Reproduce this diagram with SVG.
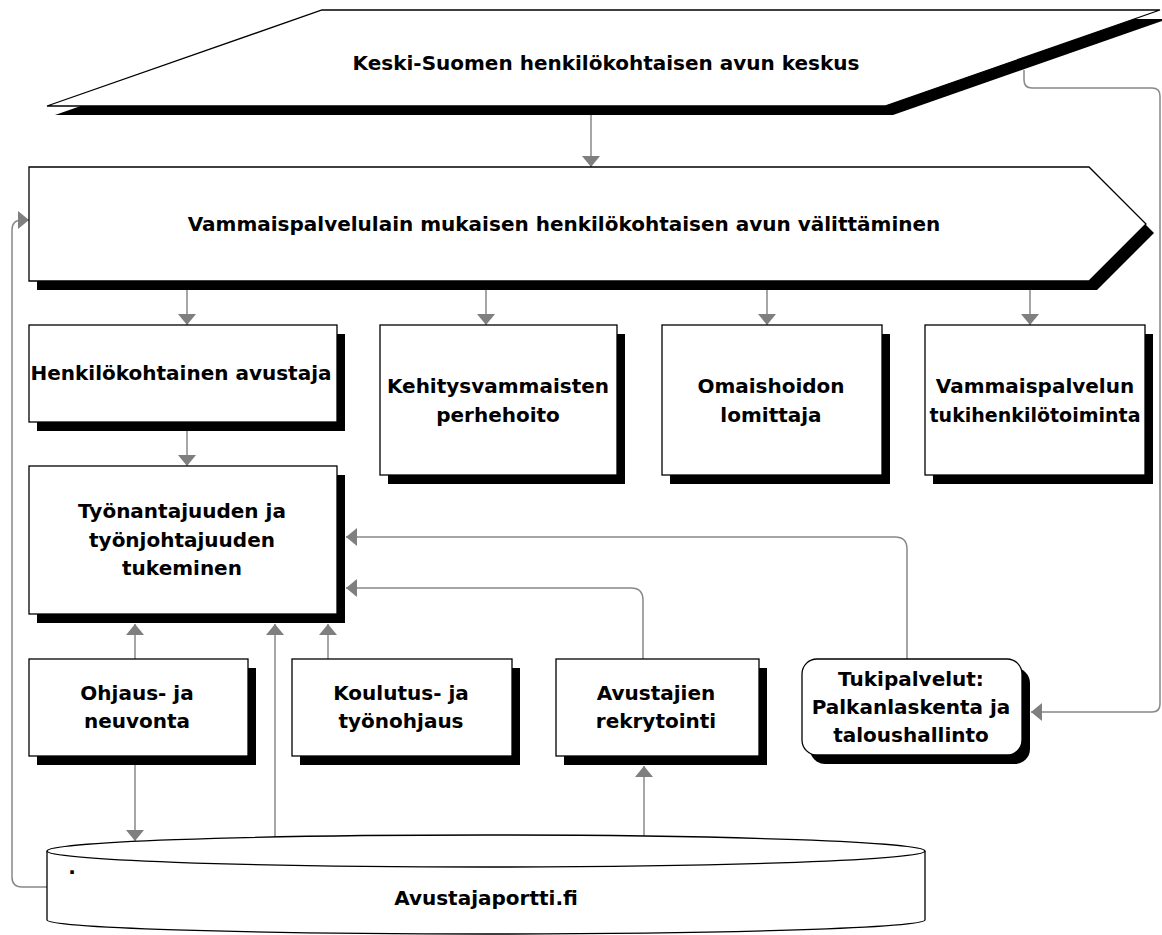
<svg xmlns="http://www.w3.org/2000/svg" width="1162" height="935" viewBox="0 0 1162 935">
<style>
.bx{fill:#fff;stroke:#000;stroke-width:1.3}
.sh{fill:#000;stroke:none}
.t{font-family:"DejaVu Sans","Liberation Sans",sans-serif;font-weight:bold;font-size:20px;fill:#000;text-anchor:middle}
.c{fill:none;stroke:#888;stroke-width:1.5}
.ca{fill:none;stroke:#888;stroke-width:1.5;marker-end:url(#ah)}
</style>
<defs>
<marker id="ah" viewBox="0 0 11 18" refX="11" refY="9" markerWidth="11" markerHeight="18" markerUnits="userSpaceOnUse" orient="auto">
<path d="M0,0 L11,9 L0,18 z" fill="#7f7f7f"/>
</marker>
</defs>
<rect x="0" y="0" width="1162" height="935" fill="#fff"/>

<g id="connectors">
<path class="ca" d="M591,115 V167"/>
<path class="ca" d="M1024,70 V80 Q1024,88 1032,88 H1152 Q1160,88 1160,96 V704 Q1160,712 1152,712 H1031"/>
<path class="ca" d="M187,290 V325"/>
<path class="ca" d="M486,290 V325"/>
<path class="ca" d="M767,290 V325"/>
<path class="ca" d="M1030,290 V325"/>
<path class="ca" d="M187,431 V466"/>
<path class="ca" d="M907,659 V549 Q907,537 895,537 H346"/>
<path class="ca" d="M643,659 V600 Q643,588 631,588 H346"/>
<path class="ca" d="M135,659 V624"/>
<path class="ca" d="M275,837 V624"/>
<path class="ca" d="M328,659 V624"/>
<path class="ca" d="M135,765 V841"/>
<path class="ca" d="M644,836 V766"/>
<path class="ca" d="M47,887 H22 Q12,887 12,877 V230 Q12,220 22,220 H29"/>
</g>

<g id="keski-suomi">
<polygon class="sh" points="330,19 1168,19 893,115 55,115"/>
<polygon class="bx" points="322,10 1160,10 885,106 47,106"/>
<text class="t" x="606" y="70">Keski-Suomen henkilökohtaisen avun keskus</text>
</g>

<g id="valittaminen">
<polygon class="sh" points="37,176 1097,176 1154,233 1097,290 37,290"/>
<polygon class="bx" points="29,167 1089,167 1146,224 1089,281 29,281"/>
<text class="t" x="564" y="231">Vammaispalvelulain mukaisen henkilökohtaisen avun välittäminen</text>
</g>

<g id="henkilokohtainen-avustaja">
<rect class="sh" x="37" y="334" width="308" height="97"/>
<rect class="bx" x="29" y="325" width="308" height="97"/>
<text class="t" x="181" y="380">Henkilökohtainen avustaja</text>
</g>

<g id="kehitysvammaisten-perhehoito">
<rect class="sh" x="388" y="334" width="237" height="150"/>
<rect class="bx" x="380" y="325" width="237" height="150"/>
<text class="t" x="498" y="393">Kehitysvammaisten</text>
<text class="t" x="498" y="422">perhehoito</text>
</g>

<g id="omaishoidon-lomittaja">
<rect class="sh" x="670" y="334" width="220" height="150"/>
<rect class="bx" x="662" y="325" width="220" height="150"/>
<text class="t" x="771" y="393">Omaishoidon</text>
<text class="t" x="771" y="422">lomittaja</text>
</g>

<g id="tukihenkilotoiminta">
<rect class="sh" x="933" y="334" width="220" height="150"/>
<rect class="bx" x="925" y="325" width="220" height="150"/>
<text class="t" x="1035" y="393">Vammaispalvelun</text>
<text class="t" x="1035" y="422" textLength="211" lengthAdjust="spacingAndGlyphs">tukihenkilötoiminta</text>
</g>

<g id="tyonantajuuden-tukeminen">
<rect class="sh" x="37" y="475" width="308" height="148"/>
<rect class="bx" x="29" y="466" width="308" height="148"/>
<text class="t" x="182" y="518">Työnantajuuden ja</text>
<text class="t" x="182" y="547">työnjohtajuuden</text>
<text class="t" x="182" y="575">tukeminen</text>
</g>

<g id="ohjaus-neuvonta">
<rect class="sh" x="37" y="668" width="219" height="97"/>
<rect class="bx" x="29" y="659" width="219" height="97"/>
<text class="t" x="137" y="700">Ohjaus- ja</text>
<text class="t" x="137" y="728">neuvonta</text>
</g>

<g id="koulutus-tyonohjaus">
<rect class="sh" x="300" y="668" width="220" height="97"/>
<rect class="bx" x="292" y="659" width="220" height="97"/>
<text class="t" x="401" y="700">Koulutus- ja</text>
<text class="t" x="401" y="728">työnohjaus</text>
</g>

<g id="avustajien-rekrytointi">
<rect class="sh" x="564" y="668" width="203" height="97"/>
<rect class="bx" x="556" y="659" width="203" height="97"/>
<text class="t" x="656" y="700">Avustajien</text>
<text class="t" x="656" y="728">rekrytointi</text>
</g>

<g id="tukipalvelut">
<rect class="sh" x="810" y="668" width="220" height="96" rx="15" ry="15"/>
<rect class="bx" x="802" y="659" width="220" height="96" rx="15" ry="15"/>
<text class="t" x="911" y="686">Tukipalvelut:</text>
<text class="t" x="911" y="714">Palkanlaskenta ja</text>
<text class="t" x="911" y="742">taloushallinto</text>
</g>

<g id="avustajaportti">
<path class="bx" d="M47,851 V920 A439,14 0 0 0 925,920 V851"/>
<ellipse class="bx" cx="486" cy="851" rx="439" ry="16"/>
<text class="t" x="72" y="874">.</text>
<text class="t" x="486" y="905">Avustajaportti.fi</text>
</g>
</svg>
